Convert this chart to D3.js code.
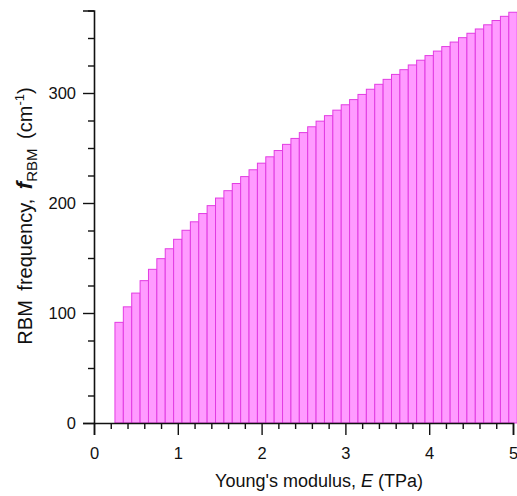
<!DOCTYPE html>
<html>
<head>
<meta charset="utf-8">
<script src="https://cdn.jsdelivr.net/npm/d3@7"></script>
<style>
body { margin: 0; background: #fff; }
svg { display: block; font-family: "Liberation Sans", Arial, sans-serif; }
.tick-label { font-size: 16.5px; fill: #111; }
.title { font-size: 18px; fill: #111; }
</style>
</head>
<body>
<div id="chart"></div>
<script>
// Young's modulus (TPa), one bar per value
var modulus = [0.3, 0.4, 0.5, 0.6, 0.7, 0.8, 0.9, 1.0, 1.1, 1.2, 1.3, 1.4, 1.5, 1.6, 1.7, 1.8,
    1.9, 2.0, 2.1, 2.2, 2.3, 2.4, 2.5, 2.6, 2.7, 2.8, 2.9, 3.0, 3.1, 3.2, 3.3, 3.4,
    3.5, 3.6, 3.7, 3.8, 3.9, 4.0, 4.1, 4.2, 4.3, 4.4, 4.5, 4.6, 4.7, 4.8, 4.9, 5.0];
// RBM frequency (cm-1)
var rbmFreq = [91.5, 105.6, 118.1, 129.4, 139.7, 149.4, 158.4, 167.0, 175.2, 182.9, 190.4, 197.6, 204.5, 211.2, 217.7, 224.0,
    230.2, 236.2, 242.0, 247.7, 253.3, 258.7, 264.0, 269.3, 274.4, 279.4, 284.4, 289.3, 294.0, 298.7, 303.4, 307.9,
    312.4, 316.9, 321.2, 325.5, 329.8, 334.0, 338.1, 342.2, 346.3, 350.3, 354.3, 358.2, 362.0, 365.9, 369.7, 373.4];
var xTicks = [0, 1, 2, 3, 4, 5];
var yTicks = [0, 100, 200, 300];

var W = 517, H = 496;
var x = d3.scaleLinear().domain([0, 5]).range([94, 513]);
var y = d3.scaleLinear().domain([0, 375]).range([423, 10.5]);
var binW = 0.1;

var svg = d3.select("#chart").append("svg").attr("width", W).attr("height", H);

var data = modulus.map(function(e, i) { return {e: e, f: rbmFreq[i]}; });

svg.append("g").selectAll("rect")
    .data(data).enter().append("rect")
    .attr("x", function(d) { return x(d.e - binW / 2); })
    .attr("width", function(d) { return x(d.e + binW / 2) - x(d.e - binW / 2); })
    .attr("y", function(d) { return y(d.f); })
    .attr("height", function(d) { return y(0) - y(d.f); })
    .attr("fill", "#ff9bff")
    .attr("stroke", "#e23ce2")
    .attr("stroke-width", 1);

// x axis: major + minor ticks
var xMinor = d3.range(0, 5.01, 0.2).filter(function(v) { return Math.abs(v - Math.round(v)) > 1e-6; });
svg.append("g").attr("transform", "translate(0," + y(0) + ")")
    .call(d3.axisBottom(x).tickValues(xTicks).tickSize(12).tickPadding(12).tickFormat(d3.format("d")));
svg.append("g").attr("transform", "translate(0," + y(0) + ")")
    .call(d3.axisBottom(x).tickValues(xMinor).tickSize(6).tickFormat(""))
    .select(".domain").remove();

var yMinor = d3.range(25, 376, 25).filter(function(v) { return v % 100 !== 0; });
svg.append("g").attr("transform", "translate(" + x(0) + ",0)")
    .call(d3.axisLeft(y).tickValues(yTicks).tickSize(11).tickPadding(7).tickFormat(d3.format("d")));
svg.append("g").attr("transform", "translate(" + x(0) + ",0)")
    .call(d3.axisLeft(y).tickValues(yMinor).tickSize(6).tickFormat(""))
    .select(".domain").remove();

svg.selectAll(".domain").attr("stroke", "#111").attr("stroke-width", 1.6);
svg.selectAll(".tick line").attr("stroke", "#111").attr("stroke-width", 1.4);
svg.selectAll(".tick text").attr("class", "tick-label").attr("font-size", null).attr("font-family", null);

// x title
var xt = svg.append("text").attr("class", "title")
    .attr("x", 319).attr("y", 487).attr("text-anchor", "middle");
xt.append("tspan").text("Young's modulus, ");
xt.append("tspan").attr("font-style", "italic").text("E");
xt.append("tspan").text(" (TPa)");

// y title
var yt = svg.append("text").attr("class", "title")
    .attr("transform", "translate(32,216) rotate(-90)")
    .attr("text-anchor", "middle")
    .style("font-size", "20px")
    .style("word-spacing", "4px");
yt.append("tspan").text("RBM frequency, ");
yt.append("tspan").attr("font-style", "italic").attr("font-weight", "bold").style("font-size", "22px").text("f");
yt.append("tspan").style("font-size", "15px").attr("dy", 5).text("RBM");
yt.append("tspan").attr("dy", -5).text(" (cm");
yt.append("tspan").style("font-size", "13px").attr("dy", -8).text("-1");
yt.append("tspan").attr("dy", 8).text(")");
</script>
</body>
</html>
